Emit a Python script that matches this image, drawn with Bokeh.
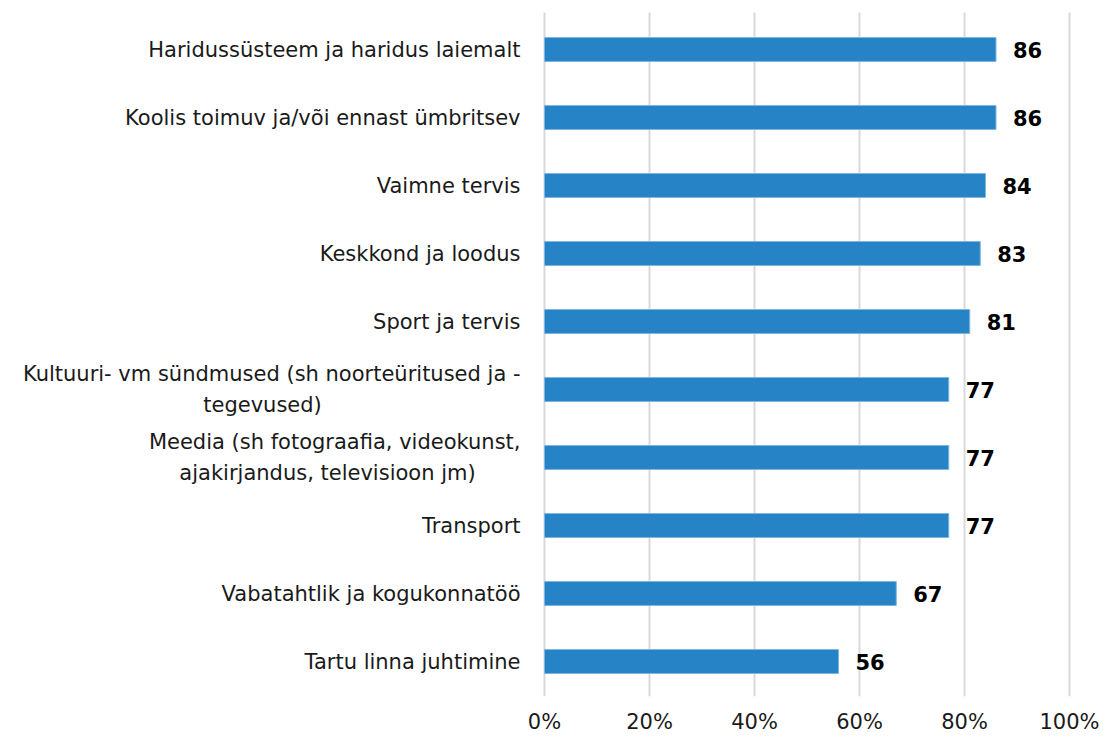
from bokeh.plotting import figure
from bokeh.models import Range1d, FixedTicker, ColumnDataSource
from bokeh.core.properties import value
from bokeh.embed import file_html
from bokeh.resources import INLINE

categories = [
    "Haridussüsteem ja haridus laiemalt",
    "Koolis toimuv ja/või ennast ümbritsev",
    "Vaimne tervis",
    "Keskkond ja loodus",
    "Sport ja tervis",
    "Kultuuri- vm sündmused (sh noorteüritused ja -\ntegevused)",
    "Meedia (sh fotograafia, videokunst,\najakirjandus, televisioon jm)",
    "Transport",
    "Vabatahtlik ja kogukonnatöö",
    "Tartu linna juhtimine",
]
values = [86, 86, 84, 83, 81, 77, 77, 77, 67, 56]
tick_values = [0, 20, 40, 60, 80, 100]
tick_labels = ["0%", "20%", "40%", "60%", "80%", "100%"]

n = len(categories)
ypos = [n - 1 - i for i in range(n)]

PX_X = 5.25   # px per percent
PX_Y = 68.0   # px per category
W = 1103
FH = 696
ORIGIN_X = 544
FIRST_Y = 49
GRID_TOP = 12

x0 = -ORIGIN_X / PX_X
x1 = x0 + W / PX_X
ytop = (n - 1) + FIRST_Y / PX_Y
ybot = ytop - FH / PX_Y

FONT = "DejaVu Sans"

p = figure(width=W, frame_height=FH, output_backend="svg", toolbar_location=None,
           x_range=Range1d(x0, x1), y_range=Range1d(ybot, ytop),
           min_border_left=0, min_border_right=0, min_border_top=0, min_border_bottom=0,
           y_axis_location=None)
p.outline_line_color = None
p.background_fill_color = "white"

ax = p.xaxis[0]
ax.ticker = FixedTicker(ticks=tick_values)
ax.major_label_overrides = {v: l for v, l in zip(tick_values, tick_labels)}
ax.axis_line_color = None
ax.major_tick_line_color = None
ax.minor_tick_line_color = None
ax.major_label_text_font = FONT
ax.major_label_text_font_size = "21px"
ax.major_label_text_color = "#1a1a1a"
ax.major_label_standoff = 7

p.xgrid.visible = False
p.ygrid.visible = False
grid_y0 = (n - 1) + (FIRST_Y - GRID_TOP) / PX_Y
p.segment(x0=tick_values, x1=tick_values, y0=[grid_y0] * len(tick_values),
          y1=[ybot] * len(tick_values), line_color="#d9d9d9", line_width=2)

src = ColumnDataSource(dict(y=ypos, v=values, lab=[str(v) for v in values],
                            lx=[v + 17 / PX_X for v in values]))
p.hbar(y="y", left=0, right="v", height=24 / PX_Y, source=src,
       fill_color="#2683C6", line_color="#7fb6e0", line_width=1)

p.text(x="lx", y="y", text="lab", source=src, text_font=value(FONT),
       text_font_style="bold", text_font_size="21px", text_color="#000000",
       text_baseline="middle", text_align="left")

lab_x = -24 / PX_X
single = dict(x=[], y=[], t=[])
first = dict(x=[], y=[], t=[])
second = dict(x=[], y=[], t=[])
centers2 = {5: (262 - ORIGIN_X) / PX_X, 6: (327 - ORIGIN_X) / PX_X}
for i, c in enumerate(categories):
    if "\n" in c:
        a, b = c.split("\n")
        first["x"].append(lab_x); first["y"].append(ypos[i] + 16 / PX_Y); first["t"].append(a)
        second["x"].append(centers2[i]); second["y"].append(ypos[i] - 15 / PX_Y); second["t"].append(b)
    else:
        single["x"].append(lab_x); single["y"].append(ypos[i]); single["t"].append(c)

common = dict(text_font=value(FONT), text_font_size="21px", text_color="#1a1a1a",
              text_baseline="middle")
p.text(x="x", y="y", text="t", source=ColumnDataSource(single), text_align="right", **common)
p.text(x="x", y="y", text="t", source=ColumnDataSource(first), text_align="right", **common)
p.text(x="x", y="y", text="t", source=ColumnDataSource(second), text_align="center", **common)

open("out.html", "w").write(file_html(p, INLINE))
